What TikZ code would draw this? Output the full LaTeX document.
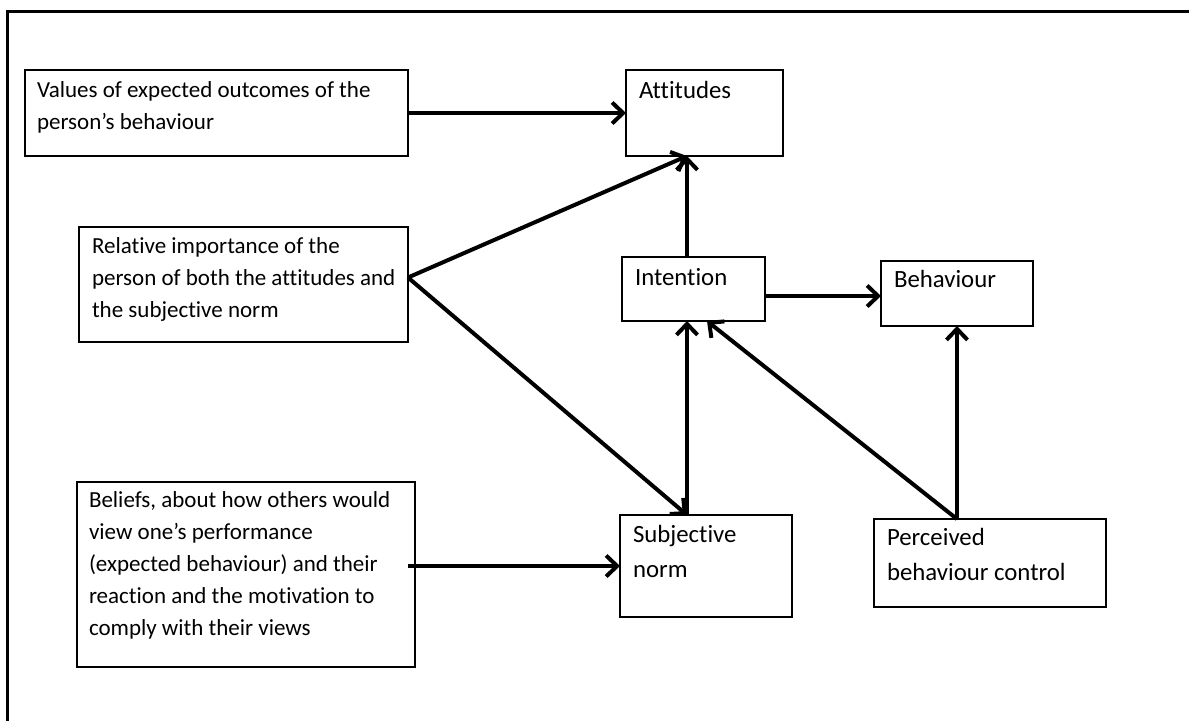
\documentclass[tikz,border=0pt]{standalone}
\usepackage{fontspec}
\setmainfont{Carlito}[Ligatures=NoCommon]
\usetikzlibrary{arrows.meta}
\begin{document}
\begin{tikzpicture}[x=0.5pt,y=-0.5pt,
  box/.style={draw=black,line width=1pt,rectangle,inner sep=0pt,outer sep=0pt,anchor=north west},
  txt/.style={anchor=base west,inner sep=0pt,outer sep=0pt,align=left,
    font=\fontsize{11.5pt}{16pt}\selectfont},
  txtb/.style={txt,font=\fontsize{12.4pt}{17.25pt}\selectfont},
  conn/.style={line width=2pt,-{Straight Barb[length=5.5pt,width=10.5pt,line width=2pt]}}]
\useasboundingbox (0,0) rectangle (1189,720);
% white page background
\fill[white] (-20,-20) rectangle (1209,740);
% outer frame (only its left and top sides fall inside the page)
\draw[line width=1.5pt] (7,740) -- (7,11) -- (1209,11);

% boxes
\node[box,minimum width=191.5pt,minimum height=43pt] (val) at (25,70) {};
\node[box,minimum width=164.5pt,minimum height=57.5pt] (rel) at (79,227) {};
\node[box,minimum width=169pt,minimum height=92.5pt] (bel) at (77,482) {};
\node[box,minimum width=78.5pt,minimum height=43pt] (att) at (626,70) {};
\node[box,minimum width=71.5pt,minimum height=32pt] (int) at (622,257) {};
\node[box,minimum width=76pt,minimum height=32.5pt] (beh) at (881,261) {};
\node[box,minimum width=86pt,minimum height=51pt] (subj) at (620,515) {};
\node[box,minimum width=116pt,minimum height=44pt] (perc) at (874,519) {};

% texts (base anchor sits on the last line)
\node[txt] (val-t) at ([shift={(6pt,-29.5pt)}]val.north west) {Values of expected outcomes of the\\person’s behaviour};
\node[txt] (rel-t) at ([shift={(6.5pt,-45pt)}]rel.north west) {Relative importance of the\\person of both the attitudes and\\the subjective norm};
\node[txt] (bel-t) at ([shift={(6pt,-76.5pt)}]bel.north west) {Beliefs, about how others would\\view one’s performance\\(expected behaviour) and their\\reaction and the motivation to\\comply with their views};
\node[txtb] (att-t) at ([shift={(6.5pt,-14pt)}]att.north west) {Attitudes};
\node[txtb] (int-t) at ([shift={(6.5pt,-14pt)}]int.north west) {Intention};
\node[txtb] (beh-t) at ([shift={(6.5pt,-13pt)}]beh.north west) {Behaviour};
\node[txtb] (subj-t) at ([shift={(6.5pt,-31pt)}]subj.north west) {Subjective\\norm};
\node[txtb] (perc-t) at ([shift={(6.5pt,-30.5pt)}]perc.north west) {Perceived\\behaviour control};

% connector end points
\coordinate (attin) at ([xshift=-8.75pt]att.south);
\coordinate (relout) at ([yshift=3.5pt]rel.east);
\coordinate (intin) at ([xshift=6.75pt]int.south);

% connectors
\draw[conn] (val) -- (att);
\draw[conn] (relout) -- (attin);
\draw[conn] (relout) -- (subj.north -| attin);
\draw[conn] (int.north -| attin) -- (attin);
\draw[conn] (subj.north -| attin) -- (int.south -| attin);
\draw[conn] (int.east |- 0,296) -- (beh.west |- 0,296);
\draw[conn] (perc.north -| beh.south) -- (beh.south);
\draw[conn] (perc.north -| beh.south) -- (intin);
\draw[conn] ([xshift=-3.5pt]bel.east |- subj.west) -- (subj.west);
\end{tikzpicture}
\end{document}
